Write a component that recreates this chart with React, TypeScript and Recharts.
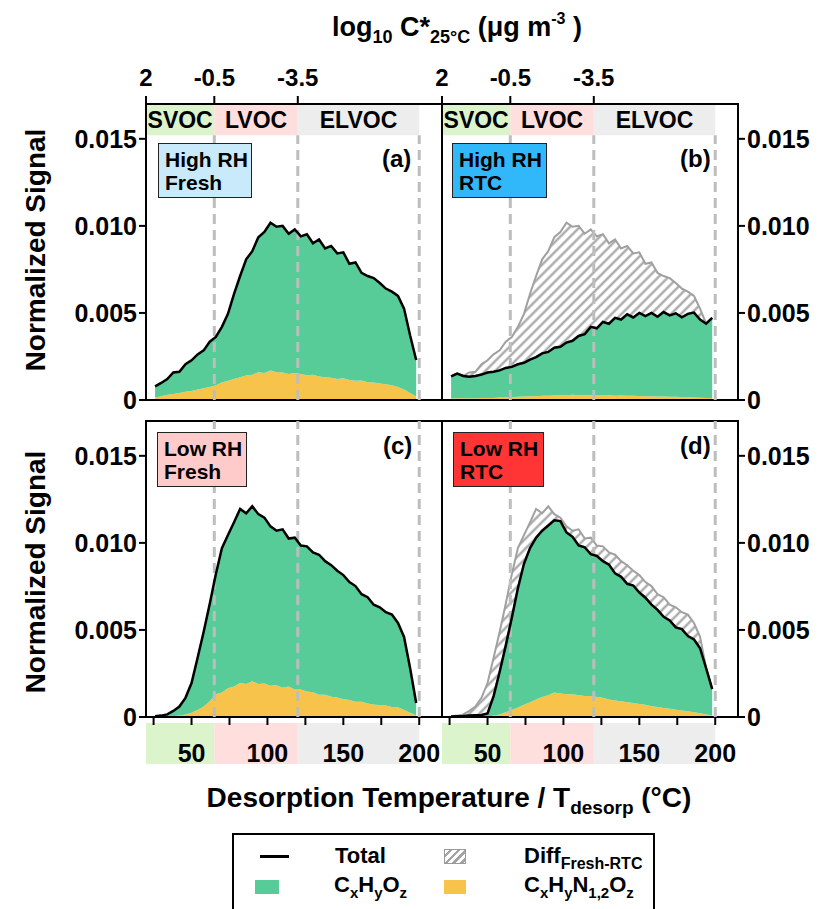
import React from "react";
import {
  ComposedChart,
  Area,
  Line,
  XAxis,
  YAxis,
  ReferenceArea,
  ReferenceLine,
} from "recharts";

// desorption temperature grid (°C)
const temps = [
  26, 30, 34, 38, 42, 46, 50, 54, 58, 62, 66, 70, 74, 78, 82, 86, 90, 94, 98, 102, 106, 110,
  114, 118, 122, 126, 130, 134, 138, 142, 146, 150, 154, 158, 162, 166, 170, 174, 178, 182,
  186, 190, 194, 198,
];

// (a) High RH Fresh
const highFreshTotal = [
  0.00078, 0.00098, 0.0012, 0.00158, 0.00162, 0.00205, 0.00228, 0.00262, 0.00285, 0.00335,
  0.00362, 0.0042, 0.00495, 0.0061, 0.00712, 0.00808, 0.00855, 0.00935, 0.00965, 0.01018,
  0.00995, 0.01, 0.00955, 0.0098, 0.0094, 0.00952, 0.009, 0.00922, 0.0087, 0.00885, 0.00842,
  0.00848, 0.00782, 0.0079, 0.0073, 0.00712, 0.007, 0.00672, 0.0064, 0.00622, 0.00598,
  0.00525, 0.0037, 0.0023,
];
const highFreshChon = [
  0.00015, 0.00022, 0.0003, 0.00035, 0.0004, 0.00048, 0.00052, 0.0006, 0.00068, 0.00075,
  0.00085, 0.001, 0.0011, 0.0012, 0.0013, 0.0014, 0.00145, 0.0016, 0.00155, 0.0017, 0.0016,
  0.00158, 0.0015, 0.00155, 0.0015, 0.00142, 0.00145, 0.00135, 0.0013, 0.00128, 0.0012,
  0.00125, 0.00115, 0.0011, 0.00112, 0.00102, 0.001, 0.00095, 0.0009, 0.00085, 0.00075,
  0.0006, 0.0004, 0.0002,
];

// (b) High RH RTC
const highRtcTotal = [
  0.00135, 0.00152, 0.00138, 0.00134, 0.00138, 0.00146, 0.00158, 0.00162, 0.0017, 0.00184,
  0.0019, 0.00205, 0.00214, 0.00232, 0.00246, 0.00268, 0.00276, 0.003, 0.00306, 0.0033,
  0.0034, 0.00368, 0.00378, 0.0042, 0.00412, 0.00448, 0.00438, 0.00472, 0.00462, 0.00492,
  0.00474, 0.005, 0.00482, 0.005, 0.00478, 0.00505, 0.00486, 0.00498, 0.00475, 0.00495,
  0.00502, 0.00462, 0.00438, 0.00472,
];
const highRtcChon = [
  0.00008, 0.0001, 0.0001, 0.00009, 0.0001, 0.00011, 0.00012, 0.00012, 0.00014, 0.00015,
  0.00016, 0.00018, 0.0002, 0.00021, 0.00022, 0.00024, 0.00025, 0.00026, 0.00028, 0.00027,
  0.0003, 0.00028, 0.00029, 0.00027, 0.00028, 0.00026, 0.00027, 0.00025, 0.00026, 0.00024,
  0.00025, 0.00023, 0.00022, 0.00022, 0.0002, 0.0002, 0.00019, 0.00018, 0.00017, 0.00016,
  0.00015, 0.00013, 0.00012, 0.0001,
];

// (c) Low RH Fresh
const lowFreshTotal = [
  0.00004, 0.00008, 0.00015, 0.00035, 0.0006, 0.0011, 0.00195, 0.0034, 0.0049, 0.0065,
  0.0082, 0.0097, 0.01045, 0.01118, 0.01195, 0.0117, 0.0121, 0.01165, 0.01145, 0.01095,
  0.0107, 0.01078, 0.01025, 0.0103, 0.00985, 0.0098, 0.00945, 0.00932, 0.00895, 0.00872,
  0.0084, 0.00815, 0.00775, 0.00752, 0.00705, 0.00688, 0.00645, 0.0063, 0.00602, 0.00588,
  0.0054, 0.0046, 0.0028, 0.0008,
];
const lowFreshChon = [
  0, 0.00001, 0.00002, 0.00004, 0.00008, 0.00015, 0.00025, 0.0004, 0.0006, 0.0009, 0.0013,
  0.0014, 0.00165, 0.00175, 0.00195, 0.0019, 0.00205, 0.0019, 0.00192, 0.0018, 0.00182,
  0.00168, 0.00175, 0.00158, 0.00158, 0.00146, 0.00142, 0.00128, 0.00128, 0.00116, 0.00112,
  0.00102, 0.00098, 0.00088, 0.00088, 0.00078, 0.00072, 0.00068, 0.00066, 0.00058, 0.00056,
  0.0004, 0.00025, 0.0001,
];

// (d) Low RH RTC
const lowRtcTotal = [
  0.00003, 0.00005, 0.00006, 0.00008, 0.0001, 0.00012, 0.0002, 0.0012, 0.0026, 0.0041,
  0.0057, 0.0074, 0.0088, 0.0097, 0.0103, 0.0107, 0.011, 0.0113, 0.01125, 0.0106, 0.01035,
  0.00985, 0.00975, 0.00935, 0.00925, 0.00895, 0.00875, 0.00825, 0.00805, 0.00765, 0.00755,
  0.00715, 0.00685, 0.00645, 0.00615, 0.00575, 0.00555, 0.00515, 0.00505, 0.00465, 0.00445,
  0.00395, 0.0028, 0.0016,
];
const lowRtcChon = [
  0, 0, 0, 0, 0.00001, 0.00002, 0.00003, 0.00008, 0.00015, 0.00028, 0.0004, 0.00055, 0.0007,
  0.00085, 0.001, 0.00115, 0.00125, 0.0014, 0.00135, 0.0013, 0.0013, 0.00125, 0.0012,
  0.0012, 0.00115, 0.0011, 0.001, 0.00095, 0.0009, 0.00085, 0.0008, 0.00075, 0.0007,
  0.00062, 0.00058, 0.00052, 0.00048, 0.00042, 0.00038, 0.00033, 0.00028, 0.00022,
  0.00015, 0.0001,
];

const yTicks = [0, 0.005, 0.01, 0.015];
const tempTicks = [25, 50, 75, 100, 125, 150, 175, 200];
const logTicks = [20, 65, 120];
const logLabels = ["2", "-0.5", "-3.5"];
const volatilityBands = [
  { name: "SVOC", from: 20, to: 65, color: "#dcf4cb" },
  { name: "LVOC", from: 65, to: 120, color: "#ffdede" },
  { name: "ELVOC", from: 120, to: 200, color: "#ededed" },
];
const boundaryTemps = [65, 120, 200];

const GREEN = "#57cc99";
const YELLOW = "#f8c34b";
const FONT = "'Liberation Sans', Arial, sans-serif";
const X_DOMAIN = [20, 215];
const Y_DOMAIN = [0, 0.017];
const BAND_LOW = 0.0152;

const tickStyle = { fontSize: 25, fontWeight: 700, fill: "#000", fontFamily: FONT };

type PanelProps = {
  id: string;
  total: number[];
  chon: number[];
  fresh?: number[];
  row: "top" | "bottom";
  side: "left" | "right";
};

function Panel({ id, total, chon, fresh, row, side }: PanelProps) {
  const data = temps.map((t, i) => ({
    t,
    chon: chon[i],
    cho: Math.max(total[i] - chon[i], 0),
    total: total[i],
    diff: fresh ? [total[i], Math.max(fresh[i], total[i])] : undefined,
  }));
  const isTop = row === "top";
  const isLeft = side === "left";
  const margin = {
    top: isTop ? 64 : 421,
    bottom: isTop ? 509 : 142,
    left: isLeft ? 66 : 442,
    right: isLeft ? 382 : 6,
  };

  return (
    <div style={{ position: "absolute", left: 0, top: 0 }}>
      <ComposedChart width={824} height={909} data={data} margin={margin}>
        <defs>
          <pattern
            id={`hatch-${id}`}
            patternUnits="userSpaceOnUse"
            width={7}
            height={7}
            patternTransform="rotate(45)"
          >
            <rect width={7} height={7} fill="#fff" />
            <line x1={3.5} y1={0} x2={3.5} y2={7} stroke="#a3a3a3" strokeWidth={2.2} />
          </pattern>
        </defs>

        {isTop ? (
          <XAxis
            orientation="top"
            type="number"
            dataKey="t"
            domain={X_DOMAIN}
            allowDataOverflow
            ticks={logTicks}
            interval={0}
            tickFormatter={(v: number) => logLabels[logTicks.indexOf(v)] ?? ""}
            height={40}
            axisLine={false}
            tickLine={{ stroke: "#000", strokeWidth: 2 }}
            tickSize={8}
            tickMargin={10}
            tick={{ ...tickStyle, fontSize: 24 }}
          />
        ) : (
          <XAxis
            type="number"
            dataKey="t"
            domain={X_DOMAIN}
            allowDataOverflow
            ticks={tempTicks}
            interval={0}
            tickFormatter={(v: number) => (v % 50 === 0 ? String(v) : "")}
            height={50}
            axisLine={false}
            tickLine={{ stroke: "#000", strokeWidth: 2 }}
            tickSize={8}
            tickMargin={19}
            tick={tickStyle}
          />
        )}
        <YAxis
          orientation={isLeft ? "left" : "right"}
          type="number"
          domain={Y_DOMAIN}
          allowDataOverflow
          ticks={yTicks}
          interval={0}
          tickFormatter={(v: number) => (v === 0 ? "0" : v.toFixed(3))}
          width={80}
          axisLine={false}
          tickLine={{ stroke: "#000", strokeWidth: 2 }}
          tickSize={7}
          tickMargin={2}
          tick={tickStyle}
        />

        {volatilityBands.map((b) =>
          isTop ? (
            <ReferenceArea
              key={b.name}
              x1={b.from}
              x2={b.to}
              y1={BAND_LOW}
              y2={Y_DOMAIN[1]}
              fill={b.color}
              fillOpacity={1}
              stroke="none"
              ifOverflow="visible"
              label={{
                value: b.name,
                position: "center",
                fontSize: 23,
                fontWeight: 700,
                fill: "#000",
                fontFamily: FONT,
              }}
            />
          ) : (
            <ReferenceArea
              key={b.name}
              x1={b.from}
              x2={b.to}
              y1={-0.0027}
              y2={-0.00035}
              fill={b.color}
              fillOpacity={1}
              stroke="none"
              ifOverflow="visible"
            />
          )
        )}

        {fresh && (
          <Area
            type="linear"
            dataKey="diff"
            stroke="#a0a0a0"
            strokeWidth={2}
            fill={`url(#hatch-${id})`}
            fillOpacity={1}
            isAnimationActive={false}
          />
        )}
        <Area
          type="linear"
          dataKey="chon"
          stackId="s"
          stroke="none"
          fill={YELLOW}
          fillOpacity={1}
          isAnimationActive={false}
        />
        <Area
          type="linear"
          dataKey="cho"
          stackId="s"
          stroke="none"
          fill={GREEN}
          fillOpacity={1}
          isAnimationActive={false}
        />

        {boundaryTemps.map((t) =>
          isTop ? (
            <ReferenceLine
              key={t}
              segment={[
                { x: t, y: 0 },
                { x: t, y: BAND_LOW },
              ]}
              stroke="#bdbdbd"
              strokeWidth={3}
              strokeDasharray="10 6"
            />
          ) : (
            <ReferenceLine
              key={t}
              x={t}
              stroke="#bdbdbd"
              strokeWidth={3}
              strokeDasharray="10 6"
            />
          )
        )}

        <Line
          type="linear"
          dataKey="total"
          stroke="#000"
          strokeWidth={2.5}
          dot={false}
          isAnimationActive={false}
        />

        <ReferenceArea
          x1={X_DOMAIN[0]}
          x2={X_DOMAIN[1]}
          y1={Y_DOMAIN[0]}
          y2={Y_DOMAIN[1]}
          fill="none"
          stroke="#000"
          strokeWidth={2}
          ifOverflow="visible"
        />
      </ComposedChart>
    </div>
  );
}

const Sub = ({ children, size = 15, drop = 6 }: { children: React.ReactNode; size?: number; drop?: number }) => (
  <span style={{ fontSize: size, position: "relative", top: drop }}>{children}</span>
);
const Sup = ({ children, size = 16, rise = 12 }: { children: React.ReactNode; size?: number; rise?: number }) => (
  <span style={{ fontSize: size, position: "relative", top: -rise }}>{children}</span>
);

const conditions = [
  { label: ["High RH", "Fresh"], color: "#c8eafa", left: 158, top: 143, width: 94, tag: "(a)", tagLeft: 382, tagTop: 145 },
  { label: ["High RH", "RTC"], color: "#30b8fb", left: 452, top: 143, width: 95, tag: "(b)", tagLeft: 680, tagTop: 145 },
  { label: ["Low RH", "Fresh"], color: "#ffcaca", left: 157, top: 432, width: 90, tag: "(c)", tagLeft: 383, tagTop: 432 },
  { label: ["Low RH", "RTC"], color: "#ff3434", left: 453, top: 432, width: 91, tag: "(d)", tagLeft: 680, tagTop: 432 },
];

export default function App() {
  return (
    <div
      style={{
        position: "absolute",
        left: 0,
        top: 0,
        width: 824,
        height: 909,
        overflow: "hidden",
        background: "#fff",
        fontFamily: FONT,
        fontWeight: 700,
        color: "#000",
      }}
    >
      <Panel id="a" total={highFreshTotal} chon={highFreshChon} row="top" side="left" />
      <Panel id="b" total={highRtcTotal} chon={highRtcChon} fresh={highFreshTotal} row="top" side="right" />
      <Panel id="c" total={lowFreshTotal} chon={lowFreshChon} row="bottom" side="left" />
      <Panel id="d" total={lowRtcTotal} chon={lowRtcChon} fresh={lowFreshTotal} row="bottom" side="right" />

      {/* top title */}
      <div style={{ position: "absolute", left: 0, width: 914, top: 12, textAlign: "center", fontSize: 27, whiteSpace: "nowrap" }}>
        log<Sub size={18} drop={7}>10</Sub> C*<Sub size={18} drop={7}>25°C</Sub> (μg m<Sup size={16} rise={12}>-3</Sup> )
      </div>

      {/* y titles */}
      {[250, 572].map((cy) => (
        <div
          key={cy}
          style={{
            position: "absolute",
            left: 36,
            top: cy,
            transform: "translate(-50%, -50%) rotate(-90deg)",
            fontSize: 28,
            whiteSpace: "nowrap",
          }}
        >
          Normalized Signal
        </div>
      ))}

      {/* x title */}
      <div style={{ position: "absolute", left: 0, width: 898, top: 782, textAlign: "center", fontSize: 28, whiteSpace: "nowrap" }}>
        Desorption Temperature / T<Sub size={19} drop={7}>desorp</Sub> (°C)
      </div>

      {/* condition boxes and panel tags */}
      {conditions.map((c) => (
        <React.Fragment key={c.tag}>
          <div
            style={{
              position: "absolute",
              left: c.left,
              top: c.top,
              width: c.width,
              height: 55,
              boxSizing: "border-box",
              background: c.color,
              border: "1.5px solid #222",
              fontSize: 21,
              lineHeight: "23px",
              padding: "4px 0 0 6px",
              whiteSpace: "nowrap",
            }}
          >
            {c.label[0]}
            <br />
            {c.label[1]}
          </div>
          <div style={{ position: "absolute", left: c.tagLeft, top: c.tagTop, fontSize: 24 }}>{c.tag}</div>
        </React.Fragment>
      ))}

      {/* legend */}
      <div
        style={{
          position: "absolute",
          left: 232,
          top: 833,
          width: 423,
          height: 90,
          boxSizing: "border-box",
          border: "2px solid #000",
          fontSize: 22,
        }}
      >
        <div style={{ position: "absolute", left: 26, top: 20, width: 29, height: 2.5, background: "#000" }} />
        <div style={{ position: "absolute", left: 101, top: 8 }}>Total</div>
        <div
          style={{
            position: "absolute",
            left: 210,
            top: 14,
            width: 22,
            height: 15,
            boxSizing: "border-box",
            border: "1.5px solid #9a9a9a",
            background: "repeating-linear-gradient(135deg, #fff 0 3px, #a3a3a3 3px 5.5px)",
          }}
        />
        <div style={{ position: "absolute", left: 290, top: 8, whiteSpace: "nowrap" }}>
          Diff<Sub size={16} drop={6}>Fresh-RTC</Sub>
        </div>

        <div style={{ position: "absolute", left: 21, top: 45, width: 24, height: 14, background: GREEN }} />
        <div style={{ position: "absolute", left: 100, top: 37, whiteSpace: "nowrap" }}>
          C<Sub>x</Sub>H<Sub>y</Sub>O<Sub>z</Sub>
        </div>
        <div style={{ position: "absolute", left: 210, top: 45, width: 22, height: 14, background: YELLOW }} />
        <div style={{ position: "absolute", left: 290, top: 37, whiteSpace: "nowrap" }}>
          C<Sub>x</Sub>H<Sub>y</Sub>N<Sub>1,2</Sub>O<Sub>z</Sub>
        </div>
      </div>
    </div>
  );
}
